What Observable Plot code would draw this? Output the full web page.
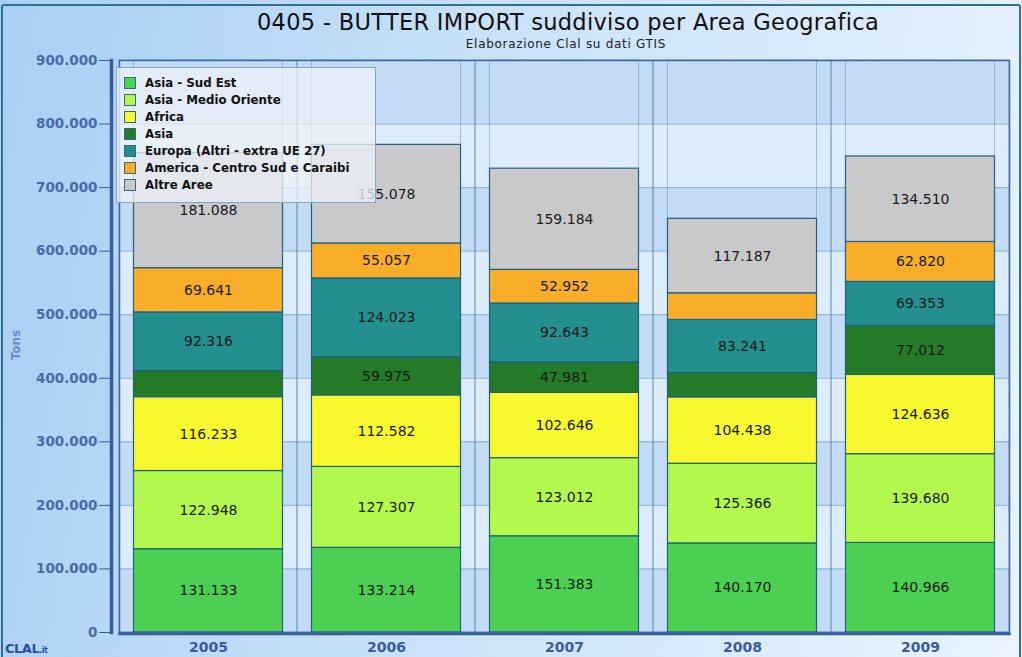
<!DOCTYPE html>
<html>
<head>
<meta charset="utf-8">
<script src="https://cdn.jsdelivr.net/npm/d3@7"></script>
<script src="https://cdn.jsdelivr.net/npm/@observablehq/plot@0.6"></script>
<style>
  html, body { margin: 0; padding: 0; background: #ffffff; }
  #wrap {
    position: relative; width: 1022px; height: 657px; overflow: hidden;
    background: linear-gradient(100deg, #a8cff4 0%, #c9e2f9 45%, #e9f4fe 100%);
    font-family: "DejaVu Sans", Verdana, sans-serif;
  }
  #border {
    position: absolute; left: 1px; top: 4px; right: 1px; bottom: -4px;
    border: 2px solid #2f7190; border-radius: 3px; pointer-events: none;
  }
  #title {
    position: absolute; left: 0; width: 1136px; top: 9px; text-align: center;
    font-size: 22.5px; color: #111; letter-spacing: 0.3px;
  }
  #subtitle {
    position: absolute; left: 0; width: 1132px; top: 37px; text-align: center;
    font-size: 12px; color: #222; letter-spacing: 0.7px;
  }
  #chart { position: absolute; left: 0; top: 0; }
  #legend {
    position: absolute; left: 116px; top: 67px; width: 260px; height: 136px;
    background: rgba(236, 241, 247, 0.78); border: 1px solid #7fa9c4;
    box-sizing: border-box; padding: 6px 0 0 7px;
  }
  .item { height: 17px; display: flex; align-items: center; font-weight: bold; font-size: 11.8px; color: #111; }
  .sw { width: 12px; height: 12px; border: 1px solid #3b6a80; box-sizing: border-box; margin-right: 9px; flex: none; }
  #logo {
    position: absolute; left: 5px; top: 641px; font-weight: bold; font-size: 13px;
    color: #2a4f9a; letter-spacing: -0.5px;
  }
  #logo small { font-size: 8px; }
  #tons {
    position: absolute; left: 16px; top: 345px; transform: translate(-50%, -50%) rotate(-90deg);
    font-weight: bold; font-size: 12px; color: #6c8fca;
  }
</style>
</head>
<body>
<div id="wrap">
  <div id="chart"></div>
  <div id="title">0405 - BUTTER IMPORT suddiviso per Area Geografica</div>
  <div id="subtitle">Elaborazione Clal su dati GTIS</div>
  <div id="tons">Tons</div>
  <div id="legend"></div>
  <div id="logo">CLAL<small>.it</small></div>
  <div id="border"></div>
</div>
<script>
const years = ["2005", "2006", "2007", "2008", "2009"];
const series = ["Asia - Sud Est", "Asia - Medio Oriente", "Africa", "Asia",
  "Europa (Altri - extra UE 27)", "America - Centro Sud e Caraibi", "Altre Aree"];
const colors = ["#4bd051", "#b3f84d", "#f8f82f", "#247b27", "#23908f", "#f9ae2a", "#c9c9cc"];

const sudEst       = [131133, 133214, 151383, 140170, 140966];
const medioOriente = [122948, 127307, 123012, 125366, 139680];
const africa       = [116233, 112582, 102646, 104438, 124636];
const asia         = [41000, 59975, 47981, 38500, 77012];
const europa       = [92316, 124023, 92643, 83241, 69353];
const america      = [69641, 55057, 52952, 42000, 62820];
const altre        = [181088, 155078, 159184, 117187, 134510];
// segments shown without a value label in the original
const unlabeled = ["2005|Asia", "2008|Asia", "2008|America - Centro Sud e Caraibi"];

const yTicks = [0, 100000, 200000, 300000, 400000, 500000, 600000, 700000, 800000, 900000];

const seriesValues = [sudEst, medioOriente, africa, asia, europa, america, altre];
const data = [];
series.forEach((s, i) => years.forEach((y, j) => data.push({year: y, series: s, value: seriesValues[i][j]})));

const fmt = d => d3.format(",")(d).replace(/,/g, ".");
const bands = yTicks.slice(0, -1).map((t, i) => ({y1: t, y2: yTicks[i + 1], dark: i % 2 === 0})).filter(d => d.dark);

const inset = 14.5;
const gridStroke = "#4f86b0";

const chart = Plot.plot({
  width: 1022,
  height: 657,
  marginTop: 60,
  marginBottom: 25,
  marginLeft: 119,
  marginRight: 13,
  style: {background: "transparent", fontFamily: "DejaVu Sans, Verdana, sans-serif", overflow: "visible"},
  x: {domain: years, padding: 0, label: null},
  y: {domain: [0, 900000], label: null},
  color: {domain: series, range: colors},
  marks: [
    Plot.frame({fill: "#dcecfb", stroke: "none"}),
    Plot.rectY(bands, {y1: "y1", y2: "y2", fill: "#c3dbf4"}),
    Plot.ruleY(yTicks, {stroke: gridStroke, strokeOpacity: 0.55}),
    Plot.barY(years, {x: d => d, y1: 0, y2: 900000, fill: "none", stroke: gridStroke, strokeOpacity: 0.55}),
    Plot.barY(years, {x: d => d, y1: 0, y2: 900000, fill: "none", stroke: gridStroke, strokeOpacity: 0.45, insetLeft: inset, insetRight: inset}),
    Plot.barY(data, {x: "year", y: "value", z: "series", fill: "series", order: series,
      stroke: "#1f5f80", strokeWidth: 1.2, insetLeft: inset, insetRight: inset}),
    Plot.text(data, Plot.stackY({x: "year", y: "value", z: "series", order: series,
      text: d => unlabeled.includes(d.year + "|" + d.series) ? null : fmt(d.value),
      fill: "#1a1a1a", fontSize: 14, letterSpacing: "0.9px"})),
    Plot.frame({stroke: "#3f6aa8", strokeWidth: 1.5}),
    Plot.frame({anchor: "left", stroke: "#3a5c9a", strokeWidth: 3.5, dx: -8}),
    Plot.frame({anchor: "bottom", stroke: "#3a5c9a", strokeWidth: 2.5, dy: 1.5}),
    Plot.axisY({ticks: yTicks, tickFormat: fmt, tickSize: 11, dx: -9, tickPadding: 2,
      fontWeight: "bold", fontSize: 13.5, fill: "#4a6aa8", stroke: "#3a5c9a", label: null}),
    Plot.axisX({tickSize: 0, tickPadding: 10, fontWeight: "bold", fontSize: 14, fill: "#3a5c9a", label: null})
  ]
});
document.getElementById("chart").appendChild(chart);

const legend = document.getElementById("legend");
series.forEach((s, i) => {
  const row = document.createElement("div");
  row.className = "item";
  const sw = document.createElement("span");
  sw.className = "sw";
  sw.style.background = colors[i];
  row.appendChild(sw);
  row.appendChild(document.createTextNode(s));
  legend.appendChild(row);
});
</script>
</body>
</html>
